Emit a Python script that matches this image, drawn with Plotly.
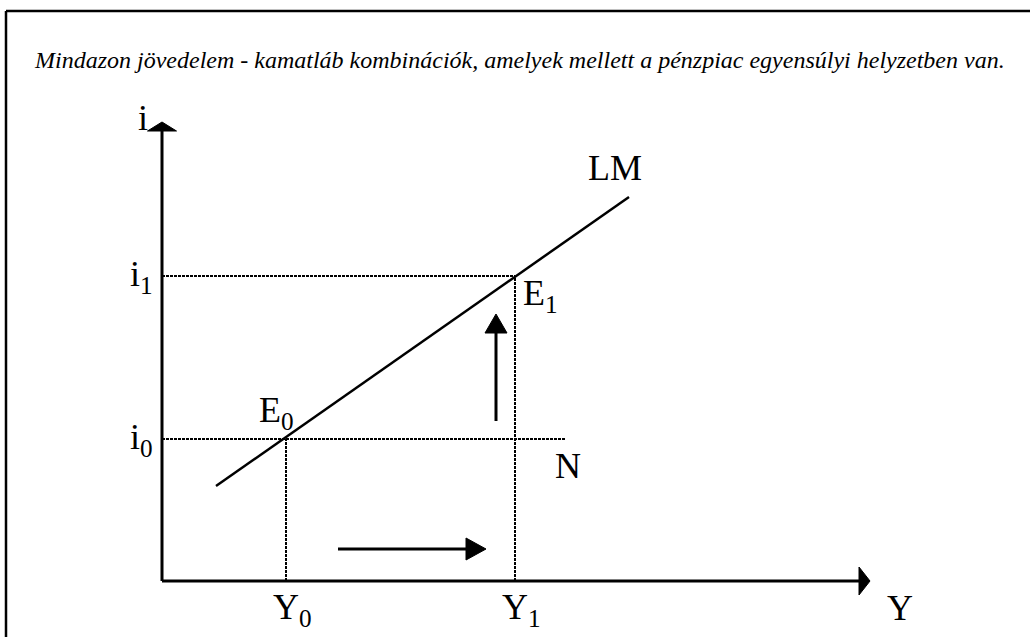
import plotly.graph_objects as go

# ---- data (diagram units) ----
Y_levels = [12.4, 35.3]          # Y0, Y1
i_levels = [14.2, 30.5]          # i0, i1
Y_labels = ["Y<sub>0</sub>", "Y<sub>1</sub>"]
i_labels = ["i<sub>0</sub>", "i<sub>1</sub>"]
lm_x = [5.4, 46.7]
lm_y = [9.5, 38.4]
n_line_end = 40.4                # N horizontal line end (x)
x_axis_end = 70.8
y_axis_end = 45.9
up_arrow_x = 33.4
up_arrow_y = [16.0, 26.7]
right_arrow_y = 3.2
right_arrow_x = [17.6, 32.4]
title = "Mindazon jövedelem - kamatláb kombinációk, amelyek mellett a pénzpiac egyensúlyi helyzetben van."

W, H = 1030, 637
OX, OY, S = 162, 581, 10.0  # pixel origin and px per unit
xr = [-OX / S, (W - OX) / S]
yr = [-(H - OY) / S, OY / S]
px = 1 / S  # one pixel in data units

SERIF = "Liberation Serif"
fig = go.Figure()

def line(x, y, width=2, dash="solid"):
    fig.add_trace(go.Scatter(x=x, y=y, mode="lines", hoverinfo="skip",
                             line=dict(color="black", width=width, dash=dash)))

def tri(x, y):
    fig.add_trace(go.Scatter(x=x + [x[0]], y=y + [y[0]], mode="lines", fill="toself",
                             fillcolor="black", hoverinfo="skip",
                             line=dict(color="black", width=1)))

# axes
line([0, 0], [0, y_axis_end - 9 * px], width=3)
tri([-14.5 * px, 14.5 * px, 0], [y_axis_end - 9 * px, y_axis_end - 9 * px, y_axis_end])
line([0, x_axis_end - 11 * px], [0, 0], width=3)
tri([x_axis_end - 11 * px, x_axis_end - 11 * px, x_axis_end], [-14 * px, 14 * px, 0])

# dotted guide lines
DASH = "3px,1px"
line([0, Y_levels[1]], [i_levels[1], i_levels[1]], width=2, dash=DASH)
line([0, n_line_end], [i_levels[0], i_levels[0]], width=2, dash=DASH)
line([Y_levels[0], Y_levels[0]], [0, i_levels[0]], width=2, dash=DASH)
line([Y_levels[1], Y_levels[1]], [0, i_levels[1]], width=2, dash=DASH)

# LM curve
line(lm_x, lm_y, width=2.5)

# movement arrows
line([up_arrow_x, up_arrow_x], [up_arrow_y[0], up_arrow_y[1] - 19 * px], width=3)
tri([up_arrow_x - 11 * px, up_arrow_x + 11 * px, up_arrow_x],
    [up_arrow_y[1] - 19 * px, up_arrow_y[1] - 19 * px, up_arrow_y[1]])
line([right_arrow_x[0], right_arrow_x[1] - 20 * px], [right_arrow_y, right_arrow_y], width=3)
tri([right_arrow_x[1] - 20 * px, right_arrow_x[1] - 20 * px, right_arrow_x[1]],
    [right_arrow_y - 11 * px, right_arrow_y + 11 * px, right_arrow_y])

def label(x, y, text, size=36, xanchor="center"):
    fig.add_annotation(x=x, y=y, xref="x", yref="y", text=text, showarrow=False,
                       xanchor=xanchor, yanchor="middle",
                       font=dict(family=SERIF, size=size, color="black"))

label(-1.9, y_axis_end + 0.4, "i")
for lv, tx in zip(i_levels, i_labels):
    label(-2.1, lv, tx)
for lv, tx in zip(Y_levels, Y_labels):
    label(lv + 0.6, -2.8, tx)
label(x_axis_end + 3.0, -2.7, "Y")
label(lm_x[1] - 1.4, lm_y[1] + 2.9, "LM")
label(Y_levels[0] - 1.0, i_levels[0] + 2.7, "E<sub>0</sub>")
label(Y_levels[1] + 2.5, i_levels[1] - 1.9, "E<sub>1</sub>")
label(n_line_end + 0.2, i_levels[0] - 2.7, "N")

fig.add_annotation(x=32 / W, y=1 - 60 / H, xref="paper", yref="paper", text="<i>" + title + "</i>",
                   showarrow=False, xanchor="left", yanchor="middle",
                   font=dict(family=SERIF, size=24, color="black"))

# frame
fig.add_shape(type="line", xref="paper", yref="paper", x0=6 / W, x1=1, y0=1 - 11 / H, y1=1 - 11 / H,
              line=dict(color="black", width=2.5))
fig.add_shape(type="line", xref="paper", yref="paper", x0=6 / W, x1=6 / W, y0=0, y1=1 - 11 / H,
              line=dict(color="black", width=2.5))

fig.update_layout(width=W, height=H, margin=dict(l=0, r=0, t=0, b=0),
                  paper_bgcolor="white", plot_bgcolor="white", showlegend=False,
                  font=dict(family=SERIF),
                  xaxis=dict(range=xr, visible=False, fixedrange=True),
                  yaxis=dict(range=yr, visible=False, fixedrange=True))

fig.write_html("out.html", config={"displayModeBar": False},
               post_script="document.body.style.margin='0';document.body.style.overflow='hidden';")
